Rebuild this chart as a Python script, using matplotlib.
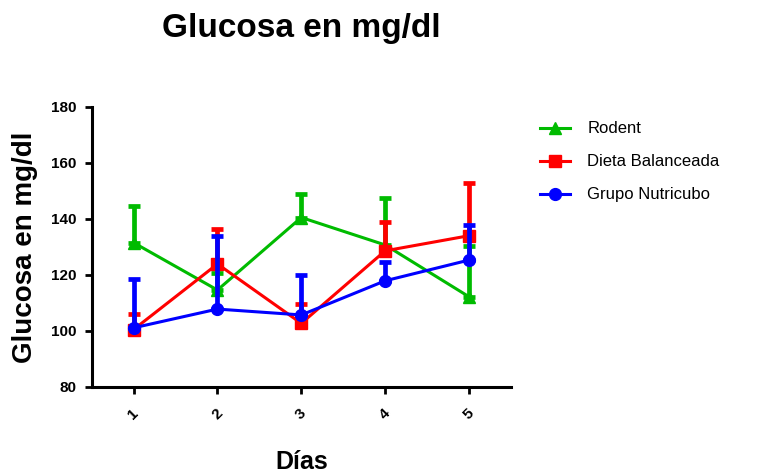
import matplotlib
matplotlib.use("Agg")
import matplotlib.pyplot as plt
import numpy as np

plt.rcParams['font.family'] = ['Liberation Sans', 'DejaVu Sans']

days = [1, 2, 3, 4, 5]
day_labels = ["1", "2", "3", "4", "5"]

rodent = [131.5, 114.6, 140.5, 130.7, 112.2]
rodent_err = [13.1, 6.0, 8.4, 16.7, 18.2]

dieta = [100.5, 123.9, 102.7, 128.6, 134.0]
dieta_err = [5.4, 12.4, 6.8, 10.2, 18.8]

nutri = [101.1, 107.8, 105.7, 117.9, 125.3]
nutri_err = [17.3, 26.2, 14.3, 6.6, 12.6]

series = [
    ("Rodent", rodent, rodent_err, "#00BB00", "^"),
    ("Dieta Balanceada", dieta, dieta_err, "#FF0000", "s"),
    ("Grupo Nutricubo", nutri, nutri_err, "#0000FF", "o"),
]

fig = plt.figure(figsize=(7.66, 4.73), dpi=100)
ax = fig.add_axes([0.1197, 0.182, 0.667 - 0.1197, 0.774 - 0.182])

handles = []
for i, (name, vals, errs, col, mk) in enumerate(series):
    zeros = np.zeros(len(errs))
    ax.errorbar(days, vals, yerr=[zeros, errs], fmt='none', ecolor=col,
                elinewidth=3.4, capsize=4.3, capthick=3.4, zorder=2 + i)
    h, = ax.plot(days, vals, color=col, marker=mk, markersize=8.5,
                 linewidth=2.2, zorder=2.5 + i, label=name, clip_on=False)
    handles.append(h)

ax.set_xlim(0.5, 5.5)
ax.set_ylim(80, 180)
ax.set_yticks([80, 100, 120, 140, 160, 180])
ax.set_xticks(days)
ax.set_xticklabels(day_labels, rotation=45, ha='center', va='top',
                   fontweight='bold', fontsize=11)
for lab in ax.get_yticklabels():
    lab.set_fontweight('bold')
    lab.set_fontsize(11)

for s in ['top', 'right']:
    ax.spines[s].set_visible(False)
for s in ['left', 'bottom']:
    ax.spines[s].set_linewidth(2.2)
ax.tick_params(axis='both', direction='out', width=2, length=5, pad=6)
ax.tick_params(axis='x', pad=9)

ax.set_ylabel("Glucosa en mg/dl", fontsize=20, fontweight='bold', labelpad=9)
ax.set_xlabel("Días", fontsize=18, fontweight='bold', labelpad=20)
fig.text(0.393, 0.94, "Glucosa en mg/dl", fontsize=24, fontweight='bold',
         ha='center', va='center')

fig.legend(handles=handles, loc='upper left', bbox_to_anchor=(0.686, 0.775),
           frameon=False, fontsize=12, handlelength=1.8, handletextpad=1.0,
           labelspacing=1.08)

fig.savefig("out.png", dpi=100)
